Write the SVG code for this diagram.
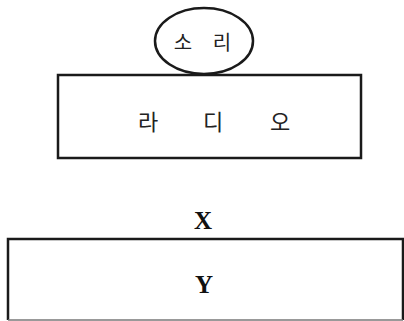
<svg xmlns="http://www.w3.org/2000/svg" width="404" height="321" viewBox="0 0 404 321">
<style>
.s{fill:none;stroke:#1a1a1a;stroke-width:2.5}
.k{font-family:"Noto Sans CJK KR",sans-serif;fill:#222;text-anchor:middle;dominant-baseline:central}
.l{font-family:"Liberation Serif",serif;font-weight:bold;fill:#111;text-anchor:middle;dominant-baseline:central}
</style>
<rect width="404" height="321" fill="#fff"/>
<g id="sound">
<ellipse class="s" cx="204" cy="41" rx="49" ry="33"/>
<text class="k" x="183" y="41" font-size="20">소</text>
<text class="k" x="222" y="41" font-size="20">리</text>
</g>
<g id="radio">
<rect class="s" x="58" y="75" width="303" height="83"/>
<text class="k" x="148" y="120" font-size="22">라</text>
<text class="k" x="213" y="120" font-size="22">디</text>
<text class="k" x="280" y="120" font-size="22">오</text>
</g>
<g id="x">
<text class="l" x="203" y="220" font-size="25">X</text>
</g>
<g id="y">
<path class="s" d="M8,320 V239 H403 V320"/>
<line x1="8" y1="320" x2="403" y2="320" stroke="#777" stroke-width="1.5"/>
<text class="l" x="204" y="284" font-size="25">Y</text>
</g>
<g id="connectors"></g>
</svg>
